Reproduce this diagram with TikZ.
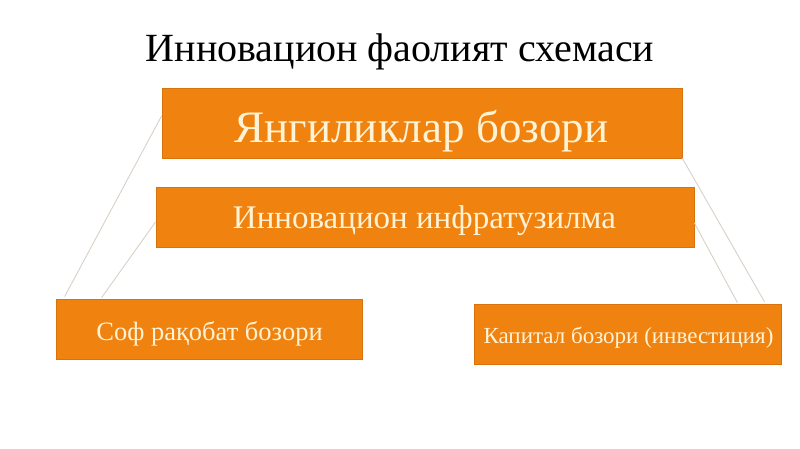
\documentclass[tikz,border=0pt]{standalone}
\usepackage{fontspec}
\setmainfont{Liberation Serif}
\usetikzlibrary{calc}
\definecolor{boxfill}{HTML}{F0820F}
\definecolor{boxdraw}{HTML}{D8720C}
\definecolor{boxtext}{HTML}{FFF3D6}
\definecolor{linkc}{HTML}{D9D0C6}
\begin{document}
\begin{tikzpicture}[x=1pt,y=-1pt,
  obox/.style={draw=boxdraw,line width=0.8pt,fill=boxfill,inner sep=0pt},
  otext/.style={text=boxtext,inner sep=0pt,anchor=base},
  link/.style={draw=linkc,line width=0.9pt}]
\useasboundingbox (0,0) rectangle (800,449);
\node[inner sep=0pt,anchor=base,font=\fontsize{40}{44}\selectfont] (title) at (400,62) {Инновацион фаолият схемаси};
\node[obox,minimum width=520pt,minimum height=70pt] (b1) at (422,123) {};
\node[obox,minimum width=538pt,minimum height=60pt] (b2) at (425,217) {};
\node[obox,minimum width=306pt,minimum height=60pt] (b3) at (209,329) {};
\node[obox,minimum width=307pt,minimum height=60pt] (b4) at (627.5,334) {};
\node[otext,font=\fontsize{45}{48}\selectfont] (t1) at (421.5,143) {Янгиликлар бозори};
\node[otext,font=\fontsize{33}{36}\selectfont] (t2) at (424.5,228) {Инновацион инфратузилма};
\node[otext,font=\fontsize{26.5}{29}\selectfont] (t3) at (209.5,340) {Соф рақобат бозори};
\node[otext,font=\fontsize{23}{26}\selectfont] (t4) at (628.5,343) {Капитал бозори (инвестиция)};
\draw[link] ($(b1.north west)!0.4!(b1.south west)$) -- ($(b3.north west)+(9,-2)$);
\draw[link] ($(b2.north west)!0.58!(b2.south west)$) -- ($(b3.north west)+(46,-1)$);
\draw[link] (b1.south east) -- ($(b4.north east)+(-17,-2)$);
\draw[link] ($(b2.north east)!0.6!(b2.south east)$) -- ($(b4.north east)+(-44,-1)$);
\end{tikzpicture}
\end{document}
